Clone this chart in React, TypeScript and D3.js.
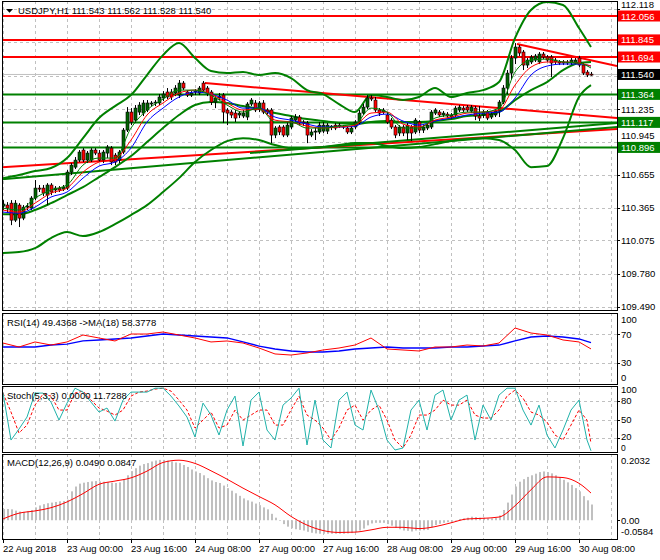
import * as d3 from "d3";
import { useEffect } from "react";

// USDJPY H1, one bar per hour from 22 Aug 08:00 to 30 Aug 11:00
const opens = [110.378,110.387,110.404,110.254,110.387,110.272,110.369,110.360,110.449,110.537,110.537,110.475,110.564,110.520,110.537,110.528,110.537,110.678,110.722,110.784,110.873,110.784,110.784,110.873,110.846,110.784,110.846,110.890,110.828,110.784,110.855,111.049,111.208,111.137,111.208,111.199,111.226,111.279,111.288,111.288,111.332,111.385,111.385,111.376,111.358,111.464,111.385,111.358,111.385,111.376,111.464,111.420,111.385,111.296,111.332,111.358,111.226,111.208,111.199,111.182,111.173,111.164,111.279,111.288,111.235,111.288,111.226,111.226,111.005,111.076,111.076,111.005,111.076,111.137,111.164,111.120,111.111,111.005,111.032,111.032,111.040,111.040,111.076,111.093,111.093,111.076,111.067,111.032,111.076,111.120,111.199,111.252,111.332,111.314,111.226,111.208,111.182,111.137,111.076,111.023,111.076,111.023,111.076,111.032,111.120,111.049,111.067,111.076,111.199,111.208,111.182,111.190,111.164,111.182,111.226,111.243,111.252,111.217,111.243,111.173,111.182,111.208,111.164,111.182,111.217,111.296,111.420,111.552,111.685,111.782,111.738,111.623,111.650,111.667,111.650,111.720,111.694,111.694,111.667,111.650,111.650,111.641,111.641,111.641,111.685,111.623,111.561,111.543];
const highs = [110.431,110.413,110.431,110.431,110.404,110.387,110.404,110.466,110.608,110.564,110.564,110.581,110.581,110.555,110.555,110.564,110.696,110.758,110.811,110.873,110.890,110.864,110.890,110.890,110.873,110.873,110.917,110.908,110.846,110.873,111.067,111.252,111.243,111.270,111.296,111.314,111.314,111.305,111.314,111.367,111.393,111.420,111.411,111.446,111.491,111.482,111.402,111.393,111.411,111.438,111.482,111.438,111.402,111.349,111.376,111.376,111.243,111.226,111.226,111.217,111.226,111.296,111.332,111.314,111.305,111.314,111.243,111.243,111.084,111.093,111.093,111.120,111.173,111.190,111.182,111.137,111.129,111.058,111.067,111.120,111.120,111.111,111.093,111.111,111.111,111.093,111.084,111.084,111.137,111.226,111.279,111.358,111.358,111.341,111.243,111.243,111.208,111.155,111.093,111.093,111.093,111.111,111.093,111.155,111.137,111.093,111.111,111.226,111.243,111.226,111.217,111.208,111.199,111.261,111.270,111.261,111.270,111.270,111.261,111.261,111.226,111.226,111.208,111.235,111.314,111.446,111.579,111.711,111.817,111.800,111.756,111.685,111.711,111.720,111.738,111.738,111.711,111.711,111.685,111.667,111.667,111.667,111.685,111.685,111.703,111.641,111.579,111.562];
const lows = [110.343,110.325,110.210,110.237,110.193,110.254,110.343,110.343,110.431,110.502,110.466,110.387,110.475,110.493,110.502,110.511,110.520,110.652,110.705,110.767,110.767,110.758,110.767,110.828,110.767,110.758,110.802,110.740,110.740,110.758,110.837,111.032,111.093,111.111,111.182,111.173,111.208,111.261,111.261,111.270,111.305,111.323,111.314,111.349,111.332,111.402,111.341,111.341,111.358,111.358,111.385,111.349,111.270,111.243,111.314,111.111,111.093,111.155,111.120,111.155,111.155,111.137,111.261,111.208,111.208,111.190,111.190,110.934,110.978,111.005,110.987,110.987,111.058,111.120,111.093,111.084,110.934,110.987,110.961,111.014,111.023,111.014,111.049,111.049,111.067,111.058,111.014,111.014,111.058,111.102,111.182,111.235,111.305,111.208,111.173,111.190,111.102,111.058,110.978,110.996,110.996,110.961,110.952,111.014,111.023,111.023,111.049,111.058,111.182,111.164,111.164,111.155,111.146,111.164,111.208,111.208,111.208,111.199,111.137,111.129,111.155,111.137,111.146,111.164,111.164,111.279,111.367,111.491,111.632,111.703,111.579,111.597,111.632,111.650,111.632,111.676,111.650,111.517,111.632,111.623,111.623,111.623,111.623,111.632,111.605,111.535,111.517,111.528];
const closes = [110.396,110.360,110.254,110.404,110.272,110.369,110.378,110.449,110.537,110.528,110.493,110.564,110.502,110.537,110.520,110.546,110.678,110.740,110.784,110.855,110.784,110.846,110.873,110.846,110.784,110.855,110.899,110.767,110.767,110.855,111.049,111.208,111.120,111.243,111.270,111.288,111.288,111.288,111.296,111.341,111.367,111.341,111.341,111.420,111.464,111.420,111.358,111.376,111.393,111.420,111.402,111.376,111.296,111.332,111.349,111.208,111.199,111.182,111.155,111.199,111.199,111.279,111.314,111.226,111.288,111.208,111.208,111.005,111.067,111.032,111.005,111.093,111.155,111.164,111.111,111.111,111.005,111.032,111.040,111.093,111.093,111.093,111.084,111.067,111.084,111.084,111.032,111.067,111.120,111.199,111.252,111.332,111.323,111.226,111.199,111.226,111.120,111.076,111.005,111.076,111.023,111.093,111.023,111.137,111.049,111.076,111.093,111.208,111.226,111.182,111.199,111.173,111.182,111.243,111.252,111.226,111.226,111.252,111.173,111.155,111.208,111.155,111.190,111.217,111.296,111.420,111.552,111.685,111.782,111.729,111.623,111.667,111.694,111.703,111.720,111.694,111.667,111.641,111.650,111.641,111.641,111.650,111.667,111.667,111.623,111.552,111.535,111.540];

// indicator lines read every 4 bars
const sampleBars = [...d3.range(0, 148, 4), 147];
const bbUpper = [110.625,110.652,110.687,110.714,110.802,110.978,111.155,111.261,111.358,111.535,111.711,111.817,111.685,111.570,111.552,111.561,111.535,111.552,111.508,111.402,111.367,111.279,111.208,111.358,111.341,111.314,111.341,111.420,111.341,111.376,111.402,111.473,111.861,112.109,112.179,112.153,111.950,111.782];
const bbMiddle = [110.307,110.307,110.343,110.404,110.475,110.546,110.634,110.722,110.820,110.943,111.067,111.182,111.270,111.296,111.288,111.261,111.235,111.199,111.173,111.146,111.129,111.111,111.102,111.120,111.129,111.120,111.120,111.129,111.146,111.173,111.182,111.208,111.314,111.402,111.473,111.579,111.641,111.650];
const bbLower = [109.963,109.972,110.007,110.096,110.149,110.113,110.149,110.219,110.299,110.387,110.502,110.625,110.767,110.873,110.952,110.978,110.961,110.917,110.890,110.890,110.899,110.917,110.934,110.934,110.908,110.890,110.899,110.925,110.952,110.970,110.978,110.961,110.873,110.722,110.731,110.978,111.341,111.446];
const maFast = [110.360,110.343,110.449,110.520,110.564,110.740,110.802,110.802,111.067,111.226,111.323,111.402,111.402,111.358,111.270,111.208,111.243,111.120,111.120,111.067,111.067,111.084,111.102,111.243,111.208,111.067,111.067,111.155,111.182,111.208,111.208,111.243,111.561,111.667,111.676,111.650,111.641,111.597];
const maMid = [110.343,110.325,110.404,110.493,110.537,110.678,110.767,110.793,110.961,111.182,111.288,111.376,111.402,111.367,111.288,111.226,111.235,111.137,111.120,111.084,111.067,111.076,111.093,111.199,111.208,111.102,111.076,111.137,111.164,111.199,111.208,111.226,111.446,111.605,111.650,111.650,111.641,111.614];
const maSlow = [110.325,110.316,110.369,110.458,110.502,110.625,110.731,110.767,110.890,111.120,111.243,111.341,111.385,111.367,111.314,111.243,111.243,111.164,111.137,111.102,111.076,111.076,111.084,111.164,111.190,111.129,111.093,111.129,111.155,111.182,111.199,111.208,111.332,111.535,111.614,111.632,111.632,111.614];

const rsiValues = [57.7,52.1,59.2,54.9,59.2,69.0,64.8,60.6,70.4,70.4,73.2,69.0,64.8,59.2,60.6,57.7,50.7,42.3,40.8,43.7,47.9,50.7,54.9,64.8,49.3,47.9,46.5,52.1,52.1,54.9,53.5,57.7,78.9,71.8,69.0,62.0,59.2,49.4];
const rsiMa = [52.1,52.1,52.1,54.9,56.3,60.6,62.0,63.4,64.8,67.6,70.4,69.0,67.6,66.2,64.8,59.2,53.5,49.3,46.5,45.1,45.1,46.5,49.3,50.7,52.1,50.7,50.7,50.7,52.1,52.1,53.5,54.9,60.6,66.2,67.6,66.2,63.4,58.4];

// stochastic read every 2 bars
const stochBars = [...d3.range(0, 148, 2), 147];
const stochMain = [92.2,17.2,34.8,53.9,92.2,92.2,77.8,49.1,76.2,100,93.8,77.8,61.9,68.3,47.5,81.0,93.8,93.8,93.8,100,100,87.4,71.5,53.9,22.0,76.2,57.1,25.2,65.1,87.4,7.7,81.0,93.8,33.2,17.2,73.0,84.2,100,9.3,81.0,17.2,4.5,81.0,93.8,41.1,33.2,97.0,65.1,17.2,1.3,4.5,65.1,81.0,33.2,89.0,97.0,49.1,81.0,89.0,17.2,73.0,49.1,89.0,100,100,65.1,41.1,73.0,25.2,4.5,33.2,65.1,81.0,17.2,0];
const stochSignal = [92.2,61.9,28.4,41.1,73.0,90.6,87.4,65.1,65.1,92.2,95.4,81.0,68.3,63.5,57.1,65.1,87.4,93.8,95.4,98.6,100,95.4,81.0,65.1,36.4,49.1,61.9,36.4,41.1,65.1,49.1,57.1,65.1,65.1,41.1,41.1,65.1,87.4,57.1,49.1,36.4,17.2,36.4,65.1,73.0,49.1,65.1,73.0,49.1,17.2,4.5,25.2,57.1,57.1,65.1,81.0,73.0,73.0,81.0,57.1,52.3,52.3,65.1,87.4,97.0,84.2,61.9,57.1,45.9,25.2,17.2,41.1,65.1,49.1,11.7];

const macdHist = [0.035,0.035,0.034,0.030,0.027,0.026,0.028,0.032,0.040,0.046,0.050,0.053,0.055,0.057,0.059,0.060,0.064,0.090,0.105,0.114,0.117,0.119,0.121,0.122,0.121,0.120,0.119,0.117,0.116,0.118,0.128,0.140,0.153,0.162,0.170,0.175,0.178,0.183,0.186,0.188,0.188,0.186,0.183,0.180,0.178,0.172,0.166,0.158,0.152,0.147,0.140,0.131,0.124,0.119,0.116,0.108,0.100,0.092,0.084,0.076,0.068,0.062,0.058,0.052,0.047,0.040,0.034,0.020,0.008,-0.002,-0.012,-0.020,-0.025,-0.028,-0.030,-0.032,-0.036,-0.039,-0.041,-0.042,-0.042,-0.042,-0.042,-0.042,-0.042,-0.042,-0.041,-0.040,-0.037,-0.032,-0.026,-0.016,-0.010,-0.008,-0.008,-0.008,-0.012,-0.017,-0.024,-0.028,-0.032,-0.033,-0.035,-0.032,-0.032,-0.031,-0.030,-0.022,-0.015,-0.011,-0.008,-0.006,-0.005,0.000,0.004,0.006,0.008,0.011,0.010,0.008,0.008,0.006,0.006,0.007,0.015,0.032,0.055,0.080,0.105,0.120,0.128,0.135,0.140,0.145,0.150,0.152,0.150,0.146,0.140,0.134,0.126,0.118,0.110,0.100,0.090,0.075,0.062,0.049];
const macdSignal = [0.004,0.022,0.029,0.039,0.057,0.083,0.112,0.122,0.132,0.153,0.180,0.187,0.177,0.154,0.128,0.100,0.074,0.048,0.012,-0.015,-0.032,-0.038,-0.037,-0.030,-0.022,-0.022,-0.026,-0.020,-0.008,0.004,0.006,0.010,0.045,0.095,0.135,0.133,0.115,0.0847];

// chart objects
const resistance = [112.056, 111.845, 111.694];
const support = [111.364, 111.117, 110.896];
const bid = 111.540;
const trendlines = [
  { b0: -0.25, p0: 110.722, b1: 153.5, p1: 111.058, color: "#ff0000" },
  { b0: 50.5, p0: 111.464, b1: 153.5, p1: 111.155, color: "#ff0000" },
  { b0: 128.5, p0: 111.808, b1: 153.5, p1: 111.614, color: "#ff0000" },
  { b0: -0.25, p0: 110.616, b1: 153.5, p1: 111.076, color: "#008000" },
  { b0: 61.75, p0: 110.846, b1: 153.5, p1: 111.111, color: "#008000" },
];

const priceTicks = [112.118, 111.826, 111.530, 111.235, 110.945, 110.655, 110.365, 110.075, 109.780, 109.490];
// ticks whose text sits under a level box in the picture: text nudged clear of the box, or left out if fully covered
const tickTextShift: Record<string, number | null> = { "112.118": -4, "111.826": null, "111.530": null, "110.945": -6 };
const timeTickBars = [0, 16, 32, 48, 64, 80, 96, 112, 128, 144];
const timeLabels = ["22 Aug 2018", "23 Aug 00:00", "23 Aug 16:00", "24 Aug 08:00", "27 Aug 00:00", "27 Aug 16:00", "28 Aug 08:00", "29 Aug 00:00", "29 Aug 16:00", "30 Aug 08:00"];

const L = 2, R = 617;
const MAIN = { top: 1, bottom: 310 };
const RSIP = { top: 313, bottom: 384 };
const STOP = { top: 386, bottom: 452 };
const MACP = { top: 454, bottom: 539 };
const GRID = "#c0c0c0";
const BULL = "#006400";
const BEAR = "#ff0000";

const x = d3.scaleLinear().domain([0, 153.5]).range([3, 617]);
const yMain = d3.scaleLinear().domain([109.49, 112.056]).range([306.7, 16]);
const yRsi = d3.scaleLinear().domain([0, 100]).range([384, 313]);
const yStoch = d3.scaleLinear().domain([0, 100]).range([450.8, 388.2]);
const yMacd = d3.scaleLinear().domain([-0.0584, 0.2032]).range([539, 455]);

function linePath(bars: number[], vals: number[], y: (v: number) => number, curve: d3.CurveFactory = d3.curveLinear) {
  return d3
    .line<number>()
    .x((_, i) => x(bars[i]))
    .y((d) => y(d))
    .curve(curve)(vals.slice(0, bars.length)) || "";
}

const gridBars = d3.range(0, 154, 8);

function VGrid({ top, bottom }: { top: number; bottom: number }) {
  return (
    <g>
      {gridBars.map((b) => (
        <line key={b} x1={x(b) + 0.5} x2={x(b) + 0.5} y1={top} y2={bottom} stroke={GRID} strokeDasharray="3,3" />
      ))}
    </g>
  );
}

function HGrid({ ys }: { ys: number[] }) {
  return (
    <g>
      {ys.map((y, i) => (
        <line key={i} x1={L} x2={R} y1={Math.round(y) + 0.5} y2={Math.round(y) + 0.5} stroke={GRID} strokeDasharray="3,3" />
      ))}
    </g>
  );
}

function AxisLabel({ y, text, shift = 0 }: { y: number; text: string | null; shift?: number }) {
  return (
    <g>
      <line x1={R} x2={R + 3} y1={Math.round(y) + 0.5} y2={Math.round(y) + 0.5} stroke="#000" />
      {text !== null && <text x={621} y={y + 3.5 + shift} fill="#000">{text}</text>}
    </g>
  );
}

export default function App() {
  useEffect(() => {
    document.body.style.margin = "0";
  }, []);

  const levelBoxes = [
    ...resistance.map((p) => ({ p, color: "#ff0000" })),
    { p: bid, color: "#000000" },
    ...support.map((p) => ({ p, color: "#008000" })),
  ];

  return (
    <svg
      width={660}
      height={560}
      style={{ position: "absolute", left: 0, top: 0, display: "block" }}
      fontFamily="'Liberation Sans', Arial, sans-serif"
      fontSize={9.5}
    >
      <rect width={660} height={560} fill="#fff" />
      <defs>
        <clipPath id="clipMain"><rect x={L} y={MAIN.top} width={R - L} height={MAIN.bottom - MAIN.top} /></clipPath>
        <clipPath id="clipRsi"><rect x={L} y={RSIP.top} width={R - L} height={RSIP.bottom - RSIP.top} /></clipPath>
        <clipPath id="clipSto"><rect x={L} y={STOP.top} width={R - L} height={STOP.bottom - STOP.top} /></clipPath>
        <clipPath id="clipMacd"><rect x={L} y={MACP.top} width={R - L} height={MACP.bottom - MACP.top} /></clipPath>
      </defs>

      {/* main price panel */}
      <g clipPath="url(#clipMain)">
        <VGrid top={MAIN.top} bottom={MAIN.bottom} />
        <HGrid ys={priceTicks.map(yMain)} />
        <line x1={L} x2={R} y1={yMain(bid)} y2={yMain(bid)} stroke="#c0c0c0" />
        {resistance.map((p) => (
          <line key={p} x1={L} x2={R} y1={yMain(p)} y2={yMain(p)} stroke="#ff0000" strokeWidth={2} />
        ))}
        {support.map((p) => (
          <line key={p} x1={L} x2={R} y1={yMain(p)} y2={yMain(p)} stroke="#008000" strokeWidth={2} />
        ))}
        {trendlines.map((t, i) => (
          <line key={i} x1={x(t.b0)} x2={x(t.b1)} y1={yMain(t.p0)} y2={yMain(t.p1)} stroke={t.color} strokeWidth={2} />
        ))}
        {[bbUpper, bbMiddle, bbLower].map((band, i) => (
          <path key={i} d={linePath(sampleBars, band, yMain, d3.curveMonotoneX)} fill="none" stroke="#008000" strokeWidth={2} />
        ))}
        {opens.map((o, i) => {
          const cx = Math.round(x(i));
          const c = closes[i];
          const top = yMain(Math.max(o, c));
          const bot = yMain(Math.min(o, c));
          return (
            <g key={i}>
              <line x1={cx + 0.5} x2={cx + 0.5} y1={yMain(highs[i])} y2={yMain(lows[i])} stroke="#000" />
              <rect x={cx - 1} y={top} width={3} height={Math.max(bot - top, 1)} fill={c >= o ? BULL : BEAR} stroke="#000" strokeWidth={0.6} />
            </g>
          );
        })}
        <path d={linePath(sampleBars, maSlow, yMain, d3.curveMonotoneX)} fill="none" stroke="#0000ff" strokeWidth={1} />
        <path d={linePath(sampleBars, maMid, yMain, d3.curveMonotoneX)} fill="none" stroke="#ff0000" strokeWidth={1} />
        <path d={linePath(sampleBars, maFast, yMain, d3.curveMonotoneX)} fill="none" stroke="#008000" strokeWidth={1} />
      </g>
      <path d="M6,9 L13,9 L9.5,12.7 Z" fill="#000" />
      <text x={18} y={14} fill="#000">USDJPY,H1  111.543 111.562 111.528 111.540</text>

      {/* RSI */}
      <g clipPath="url(#clipRsi)">
        <VGrid top={RSIP.top} bottom={RSIP.bottom} />
        <HGrid ys={[70, 30].map(yRsi)} />
        <path d={linePath(sampleBars, rsiMa, yRsi)} fill="none" stroke="#0000ff" strokeWidth={1.3} />
        <path d={linePath(sampleBars, rsiValues, yRsi)} fill="none" stroke="#ff0000" strokeWidth={1} />
      </g>
      <text x={7} y={326} fill="#000">RSI(14) 49.4368  -&gt;MA(18) 58.3778</text>

      {/* Stochastic */}
      <g clipPath="url(#clipSto)">
        <VGrid top={STOP.top} bottom={STOP.bottom} />
        <HGrid ys={[80, 50, 20].map(yStoch)} />
        <path d={linePath(stochBars, stochSignal, yStoch)} fill="none" stroke="#ff0000" strokeWidth={1} strokeDasharray="3,2" />
        <path d={linePath(stochBars, stochMain, yStoch)} fill="none" stroke="#20b2aa" strokeWidth={1} />
      </g>
      <text x={7} y={399} fill="#000">Stoch(5,3,3) 0.0000 11.7288</text>

      {/* MACD */}
      <g clipPath="url(#clipMacd)">
        <VGrid top={MACP.top} bottom={MACP.bottom} />
        {macdHist.map((v, i) => {
          const y0 = yMacd(0);
          const y1 = yMacd(v);
          return <rect key={i} x={Math.round(x(i))} y={Math.min(y0, y1)} width={2} height={Math.max(Math.abs(y1 - y0), 0.5)} fill="#c0c0c0" />;
        })}
        <path d={linePath(sampleBars, macdSignal, yMacd, d3.curveMonotoneX)} fill="none" stroke="#ff0000" strokeWidth={1} />
      </g>
      <text x={7} y={466} fill="#000">MACD(12,26,9) 0.0490 0.0847</text>

      {/* frames */}
      {[MAIN, RSIP, STOP, MACP].map((p, i) => (
        <rect key={i} x={L + 0.5} y={p.top + 0.5} width={R - L} height={p.bottom - p.top} fill="none" stroke="#000" />
      ))}

      {/* right price axis */}
      {priceTicks.map((t) => {
        const key = t.toFixed(3);
        const shift = tickTextShift[key];
        return <AxisLabel key={key} y={yMain(t)} text={shift === null ? null : key} shift={shift ?? 0} />;
      })}
      {levelBoxes.map((b) => (
        <g key={b.p}>
          <rect x={618} y={yMain(b.p) - 5.5} width={42} height={11} fill={b.color} />
          <text x={621} y={yMain(b.p) + 3.5} fill="#fff">{b.p.toFixed(3)}</text>
        </g>
      ))}

      {/* indicator axes */}
      <text x={621} y={322.5} fill="#000">100</text>
      <AxisLabel y={yRsi(70)} text="70" />
      <AxisLabel y={yRsi(30)} text="30" />
      <text x={621} y={380.5} fill="#000">0</text>

      <text x={621} y={392.5} fill="#000">100</text>
      <AxisLabel y={yStoch(80)} text="80" />
      <AxisLabel y={yStoch(50)} text="50" />
      <AxisLabel y={yStoch(20)} text="20" shift={-2} />
      <text x={621} y={451} fill="#000" fontSize={8.5}>0</text>

      <text x={621} y={463.5} fill="#000">0.2032</text>
      <AxisLabel y={yMacd(0)} text="0.00" />
      <text x={621} y={535} fill="#000">-0.0584</text>

      {/* time axis */}
      {timeTickBars.map((b, i) => (
        <g key={b}>
          <line x1={x(b) + 0.5} x2={x(b) + 0.5} y1={MACP.bottom} y2={MACP.bottom + 4} stroke="#000" />
          <text x={x(b)} y={552} fill="#000">{timeLabels[i]}</text>
        </g>
      ))}
    </svg>
  );
}
